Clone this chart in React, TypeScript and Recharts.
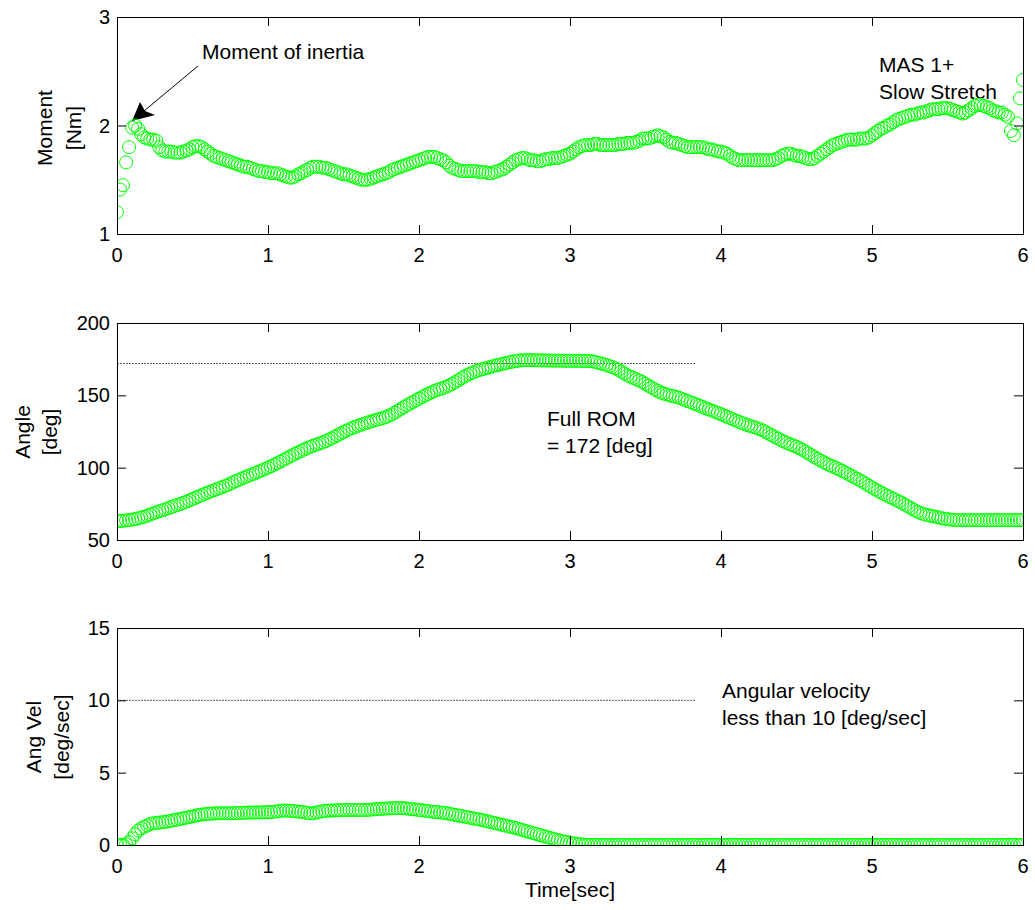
import React from 'react';
import { LineChart, Line, XAxis, YAxis, ReferenceLine } from 'recharts';

// sampling step of the recorded series (sec)
const timeStep = 0.02;

// Moment [Nm], one row = 0.2 sec
const momentValues = [
  1.20, 1.41, 1.45, 1.66, 1.80, 1.98, 2.00, 1.97, 1.92, 1.89,
  1.88, 1.87, 1.87, 1.86, 1.80, 1.77, 1.76, 1.76, 1.76, 1.75,
  1.75, 1.75, 1.76, 1.77, 1.78, 1.80, 1.81, 1.81, 1.80, 1.78,
  1.76, 1.74, 1.72, 1.71, 1.70, 1.69, 1.68, 1.67, 1.66, 1.65,
  1.64, 1.63, 1.62, 1.62, 1.61, 1.60, 1.59, 1.58, 1.58, 1.57,
  1.57, 1.56, 1.56, 1.56, 1.55, 1.54, 1.53, 1.52, 1.52, 1.53,
  1.55, 1.56, 1.58, 1.59, 1.61, 1.62, 1.62, 1.62, 1.61, 1.61,
  1.60, 1.59, 1.58, 1.57, 1.56, 1.55, 1.55, 1.54, 1.53, 1.52,
  1.51, 1.50, 1.50, 1.50, 1.51, 1.52, 1.53, 1.54, 1.55, 1.56,
  1.57, 1.59, 1.60, 1.61, 1.62, 1.63, 1.64, 1.65, 1.66, 1.67,
  1.68, 1.69, 1.70, 1.71, 1.71, 1.71, 1.70, 1.69, 1.68, 1.66,
  1.63, 1.61, 1.60, 1.59, 1.58, 1.58, 1.58, 1.58, 1.58, 1.58,
  1.57, 1.57, 1.57, 1.56, 1.56, 1.57, 1.58, 1.59, 1.60, 1.62,
  1.64, 1.66, 1.68, 1.69, 1.70, 1.70, 1.69, 1.68, 1.68, 1.67,
  1.67, 1.68, 1.69, 1.69, 1.70, 1.70, 1.70, 1.71, 1.72, 1.73,
  1.74, 1.76, 1.78, 1.80, 1.81, 1.82, 1.82, 1.82, 1.83, 1.83,
  1.82, 1.82, 1.82, 1.82, 1.82, 1.82, 1.83, 1.83, 1.83, 1.84,
  1.84, 1.84, 1.85, 1.86, 1.88, 1.88, 1.88, 1.89, 1.90, 1.91,
  1.90, 1.89, 1.87, 1.85, 1.84, 1.84, 1.83, 1.82, 1.81, 1.80,
  1.80, 1.80, 1.80, 1.80, 1.80, 1.79, 1.78, 1.78, 1.77, 1.76,
  1.76, 1.75, 1.74, 1.72, 1.70, 1.69, 1.68, 1.68, 1.68, 1.68,
  1.68, 1.68, 1.68, 1.68, 1.68, 1.68, 1.68, 1.68, 1.69, 1.70,
  1.72, 1.73, 1.74, 1.74, 1.73, 1.72, 1.72, 1.71, 1.70, 1.69,
  1.69, 1.70, 1.72, 1.74, 1.76, 1.78, 1.80, 1.82, 1.83, 1.84,
  1.85, 1.86, 1.87, 1.87, 1.87, 1.87, 1.88, 1.88, 1.88, 1.89,
  1.91, 1.93, 1.95, 1.97, 1.98, 2.00, 2.01, 2.03, 2.05, 2.06,
  2.07, 2.08, 2.09, 2.10, 2.10, 2.11, 2.12, 2.12, 2.13, 2.14,
  2.15, 2.15, 2.15, 2.16, 2.16, 2.16, 2.15, 2.14, 2.13, 2.12,
  2.11, 2.12, 2.14, 2.16, 2.18, 2.19, 2.19, 2.18, 2.17, 2.16,
  2.14, 2.13, 2.12, 2.12, 2.10, 2.08, 1.95, 1.91, 2.02, 2.25,
  2.42,
];

// Angle [deg]
const angleValues = [
  63.0, 63.1, 63.3, 63.5, 63.8, 64.1, 64.5, 65.0, 65.5, 66.1,
  66.8, 67.6, 68.4, 69.2, 69.9, 70.5, 71.2, 72.0, 72.8, 73.5,
  74.2, 74.9, 75.7, 76.5, 77.4, 78.3, 79.2, 80.1, 81.0, 81.9,
  82.7, 83.5, 84.3, 85.1, 85.9, 86.7, 87.5, 88.4, 89.4, 90.4,
  91.3, 92.2, 93.1, 94.0, 94.8, 95.6, 96.4, 97.3, 98.2, 99.1,
  100.0, 101.0, 102.0, 103.0, 104.1, 105.2, 106.3, 107.4, 108.5, 109.6,
  110.6, 111.6, 112.6, 113.6, 114.4, 115.2, 115.9, 116.6, 117.4, 118.3,
  119.2, 120.2, 121.3, 122.4, 123.5, 124.6, 125.6, 126.6, 127.5, 128.3,
  129.1, 129.8, 130.5, 131.2, 131.9, 132.5, 133.1, 133.7, 134.3, 135.0,
  135.8, 136.8, 138.0, 139.3, 140.6, 141.9, 143.1, 144.3, 145.4, 146.6,
  147.7, 148.8, 149.9, 151.0, 152.0, 152.9, 153.7, 154.4, 155.1, 155.9,
  156.8, 157.9, 159.1, 160.4, 161.7, 163.0, 164.1, 165.1, 166.0, 166.8,
  167.5, 168.1, 168.6, 169.2, 169.8, 170.4, 170.9, 171.4, 171.9, 172.4,
  172.9, 173.3, 173.7, 174.0, 174.2, 174.3, 174.3, 174.3, 174.2, 174.2,
  174.1, 174.1, 174.1, 174.0, 174.0, 174.0, 174.0, 174.0, 173.9, 173.9,
  173.9, 173.9, 173.9, 173.9, 173.8, 173.8, 173.8, 173.6, 173.2, 172.7,
  172.2, 171.6, 171.0, 170.3, 169.6, 168.7, 167.6, 166.4, 165.1, 163.9,
  162.9, 162.0, 161.1, 160.2, 159.1, 157.9, 156.6, 155.4, 154.2, 153.0,
  152.0, 151.2, 150.6, 150.0, 149.5, 149.0, 148.4, 147.6, 146.8, 146.0,
  145.2, 144.4, 143.6, 142.8, 141.9, 141.0, 140.2, 139.4, 138.6, 137.8,
  137.0, 136.1, 135.2, 134.3, 133.4, 132.5, 131.6, 130.8, 130.0, 129.3,
  128.6, 128.0, 127.3, 126.5, 125.6, 124.5, 123.3, 122.2, 121.1, 120.0,
  118.9, 117.9, 117.0, 116.1, 115.3, 114.4, 113.4, 112.3, 111.1, 109.8,
  108.5, 107.3, 106.1, 104.9, 103.8, 102.7, 101.7, 100.8, 99.9, 99.0,
  97.9, 96.8, 95.7, 94.6, 93.5, 92.4, 91.3, 90.1, 88.8, 87.5,
  86.3, 85.1, 83.9, 82.8, 81.7, 80.6, 79.6, 78.6, 77.6, 76.6,
  75.5, 74.3, 73.1, 71.9, 70.7, 69.6, 68.7, 68.0, 67.4, 66.9,
  66.5, 66.1, 65.6, 65.1, 64.7, 64.4, 64.1, 63.9, 63.8, 63.7,
  63.7, 63.7, 63.7, 63.7, 63.7, 63.7, 63.7, 63.7, 63.7, 63.7,
  63.7, 63.7, 63.7, 63.7, 63.7, 63.7, 63.7, 63.7, 63.7, 63.7,
  63.7,
];

// Angular velocity [deg/sec]
const velocityValues = [
  0.00, 0.00, 0.00, 0.05, 0.20, 0.46, 0.75, 1.00, 1.15, 1.25,
  1.35, 1.45, 1.50, 1.52, 1.55, 1.57, 1.60, 1.64, 1.68, 1.72,
  1.76, 1.80, 1.85, 1.89, 1.94, 1.98, 2.03, 2.07, 2.10, 2.13,
  2.15, 2.17, 2.18, 2.19, 2.19, 2.19, 2.19, 2.19, 2.19, 2.20,
  2.21, 2.22, 2.23, 2.24, 2.24, 2.24, 2.25, 2.25, 2.26, 2.26,
  2.27, 2.28, 2.30, 2.33, 2.36, 2.38, 2.38, 2.37, 2.35, 2.33,
  2.31, 2.29, 2.26, 2.22, 2.19, 2.20, 2.24, 2.29, 2.33, 2.36,
  2.37, 2.38, 2.39, 2.40, 2.41, 2.42, 2.42, 2.42, 2.42, 2.42,
  2.42, 2.42, 2.42, 2.43, 2.44, 2.46, 2.48, 2.49, 2.50, 2.52,
  2.53, 2.54, 2.54, 2.55, 2.55, 2.54, 2.52, 2.50, 2.47, 2.45,
  2.42, 2.40, 2.37, 2.34, 2.31, 2.29, 2.27, 2.25, 2.23, 2.20,
  2.16, 2.12, 2.08, 2.04, 2.00, 1.96, 1.92, 1.88, 1.84, 1.80,
  1.76, 1.72, 1.67, 1.62, 1.57, 1.52, 1.47, 1.42, 1.37, 1.32,
  1.27, 1.22, 1.17, 1.11, 1.05, 0.99, 0.93, 0.87, 0.81, 0.75,
  0.69, 0.63, 0.57, 0.51, 0.45, 0.39, 0.34, 0.29, 0.24, 0.20,
  0.16, 0.12, 0.09, 0.06, 0.04, 0.02, 0.01, 0.00, 0.00, 0.00,
  0.00, 0.00, 0.00, 0.00, 0.00, 0.00, 0.00, 0.00, 0.00, 0.00,
  0.00, 0.00, 0.00, 0.00, 0.00, 0.00, 0.00, 0.00, 0.00, 0.00,
  0.00, 0.00, 0.00, 0.00, 0.00, 0.00, 0.00, 0.00, 0.00, 0.00,
  0.00, 0.00, 0.00, 0.00, 0.00, 0.00, 0.00, 0.00, 0.00, 0.00,
  0.00, 0.00, 0.00, 0.00, 0.00, 0.00, 0.00, 0.00, 0.00, 0.00,
  0.00, 0.00, 0.00, 0.00, 0.00, 0.00, 0.00, 0.00, 0.00, 0.00,
  0.00, 0.00, 0.00, 0.00, 0.00, 0.00, 0.00, 0.00, 0.00, 0.00,
  0.00, 0.00, 0.00, 0.00, 0.00, 0.00, 0.00, 0.00, 0.00, 0.00,
  0.00, 0.00, 0.00, 0.00, 0.00, 0.00, 0.00, 0.00, 0.00, 0.00,
  0.00, 0.00, 0.00, 0.00, 0.00, 0.00, 0.00, 0.00, 0.00, 0.00,
  0.00, 0.00, 0.00, 0.00, 0.00, 0.00, 0.00, 0.00, 0.00, 0.00,
  0.00, 0.00, 0.00, 0.00, 0.00, 0.00, 0.00, 0.00, 0.00, 0.00,
  0.00, 0.00, 0.00, 0.00, 0.00, 0.00, 0.00, 0.00, 0.00, 0.00,
  0.00, 0.00, 0.00, 0.00, 0.00, 0.00, 0.00, 0.00, 0.00, 0.00,
  0.00,
];

const timeTicks = [0, 1, 2, 3, 4, 5, 6];
const momentTicks = [1, 2, 3];
const angleTicks = [50, 100, 150, 200];
const velocityTicks = [0, 5, 10, 15];

const fullRom = 172;
const velocityLimit = 10;
const guideEnd = 3.83;

const FONT = 'Arial, "Liberation Sans", Helvetica, sans-serif';
const GREEN = '#00ff00';
const PLOT_LEFT = 117;
const PLOT_W = 906;
const PLOT_H = 217;
const TICK_LEN = 9;
const X_MIN = 0;
const X_MAX = 6;

const toRows = (values: number[]) =>
  values.map((v, i) => ({ t: Number((i * timeStep).toFixed(2)), v }));

const momentData = toRows(momentValues);
const angleData = toRows(angleValues);
const velocityData = toRows(velocityValues);

const Note = ({ x, y, lines }: { x: number; y: number; lines: string[] }) => (
  <text x={x} y={y} fontSize={21} fontFamily={FONT} fill="#000">
    {lines.map((l, i) => (
      <tspan key={i} x={x} dy={i === 0 ? 0 : 27}>
        {l}
      </tspan>
    ))}
  </text>
);

const YTitle = ({ xs, cy, lines }: { xs: number[]; cy: number; lines: string[] }) => (
  <g>
    {lines.map((l, i) => (
      <text
        key={i}
        x={xs[i]}
        y={cy}
        transform={`rotate(-90, ${xs[i]}, ${cy})`}
        textAnchor="middle"
        fontSize={21}
        fontFamily={FONT}
        fill="#000"
      >
        {l}
      </text>
    ))}
  </g>
);

// MATLAB-style axes box with inward tick marks on all four sides (overlay svg)
const Frame = ({ plotTop, height, yDomain, yTicks }: { plotTop: number; height: number; yDomain: [number, number]; yTicks: number[] }) => {
  const bottom = plotTop + PLOT_H;
  const right = PLOT_LEFT + PLOT_W;
  const px = (t: number) => PLOT_LEFT + ((t - X_MIN) / (X_MAX - X_MIN)) * PLOT_W;
  const py = (v: number) => bottom - ((v - yDomain[0]) / (yDomain[1] - yDomain[0])) * PLOT_H;
  const ink = { stroke: '#000', strokeWidth: 1 };
  return (
    <svg
      width={1035}
      height={height}
      style={{ position: 'absolute', left: 0, top: 0, pointerEvents: 'none' }}
    >
      <rect x={PLOT_LEFT + 0.5} y={plotTop + 0.5} width={PLOT_W} height={PLOT_H} fill="none" {...ink} />
      {timeTicks.map((t) => (
        <g key={`xt-${t}`}>
          <line x1={px(t) + 0.5} y1={bottom} x2={px(t) + 0.5} y2={bottom - TICK_LEN} {...ink} />
          <line x1={px(t) + 0.5} y1={plotTop} x2={px(t) + 0.5} y2={plotTop + TICK_LEN} {...ink} />
        </g>
      ))}
      {yTicks.map((v) => (
        <g key={`yt-${v}`}>
          <line x1={PLOT_LEFT} y1={py(v) + 0.5} x2={PLOT_LEFT + TICK_LEN} y2={py(v) + 0.5} {...ink} />
          <line x1={right} y1={py(v) + 0.5} x2={right - TICK_LEN} y2={py(v) + 0.5} {...ink} />
        </g>
      ))}
    </svg>
  );
};

interface PanelProps {
  data: { t: number; v: number }[];
  top: number;
  height: number;
  marginTop: number;
  xAxisHeight: number;
  yDomain: [number, number];
  yTicks: number[];
  guide?: number;
  children?: React.ReactNode;
}

const Panel = ({ data, top, height, marginTop, xAxisHeight, yDomain, yTicks, guide, children }: PanelProps) => (
  <div style={{ position: 'absolute', left: 0, top, width: 1035, height }}>
    <LineChart width={1035} height={height} data={data} margin={{ top: marginTop, right: 12, bottom: 0, left: 0 }}>
      <XAxis
        dataKey="t"
        type="number"
        domain={[X_MIN, X_MAX]}
        ticks={timeTicks}
        interval={0}
        allowDataOverflow
        height={xAxisHeight}
        axisLine={false}
        tickSize={0}
        tickMargin={14}
        tickLine={false}
        tick={{ fill: '#000', fontSize: 20, fontFamily: FONT }}
      />
      <YAxis
        type="number"
        domain={yDomain}
        ticks={yTicks}
        interval={0}
        allowDataOverflow
        width={PLOT_LEFT}
        axisLine={false}
        tickSize={0}
        tickMargin={7}
        tickLine={false}
        tick={{ fill: '#000', fontSize: 20, fontFamily: FONT }}
      />
      {guide !== undefined && (
        <ReferenceLine
          segment={[{ x: 0, y: guide }, { x: guideEnd, y: guide }]}
          stroke="#333"
          strokeWidth={0.8}
          strokeDasharray="2 1"
        />
      )}
      <Line
        dataKey="v"
        stroke="none"
        dot={{ r: 6.5, fill: 'none', stroke: GREEN, strokeWidth: 1 }}
        activeDot={false}
        isAnimationActive={false}
      />
      {children}
    </LineChart>
    <Frame plotTop={marginTop} height={height} yDomain={yDomain} yTicks={yTicks} />
  </div>
);

export default function App() {
  return (
    <div style={{ position: 'relative', width: 1035, height: 910, background: '#fff', overflow: 'hidden' }}>
      <style>{'body{margin:0}'}</style>

      {/* Moment */}
      <Panel data={momentData} top={0} height={274} marginTop={17} xAxisHeight={40} yDomain={[1, 3]} yTicks={momentTicks}>
        <YTitle xs={[52, 81]} cy={128} lines={['Moment', '[Nm]']} />
        <Note x={202} y={59} lines={['Moment of inertia']} />
        <line x1={198} y1={66} x2={144} y2={111} stroke="#000" strokeWidth={1} />
        <polygon points="132,121 140,102 145,111 155,115" fill="#000" />
        <Note x={879} y={72} lines={['MAS 1+', 'Slow Stretch']} />
      </Panel>

      {/* Angle */}
      <Panel data={angleData} top={280} height={300} marginTop={43} xAxisHeight={40} yDomain={[50, 200]} yTicks={angleTicks} guide={fullRom}>
        <YTitle xs={[30, 57]} cy={152} lines={['Angle', '[deg]']} />
        <Note x={547} y={146} lines={['Full ROM', '= 172 [deg]']} />
      </Panel>

      {/* Angular velocity */}
      <Panel data={velocityData} top={590} height={320} marginTop={38} xAxisHeight={65} yDomain={[0, 15]} yTicks={velocityTicks} guide={velocityLimit}>
        <YTitle xs={[41, 69]} cy={147} lines={['Ang Vel', '[deg/sec]']} />
        <Note x={722} y={108} lines={['Angular velocity', 'less than 10 [deg/sec]']} />
        <text x={570} y={307} textAnchor="middle" fontSize={21} fontFamily={FONT} fill="#000">
          Time[sec]
        </text>
      </Panel>
    </div>
  );
}
